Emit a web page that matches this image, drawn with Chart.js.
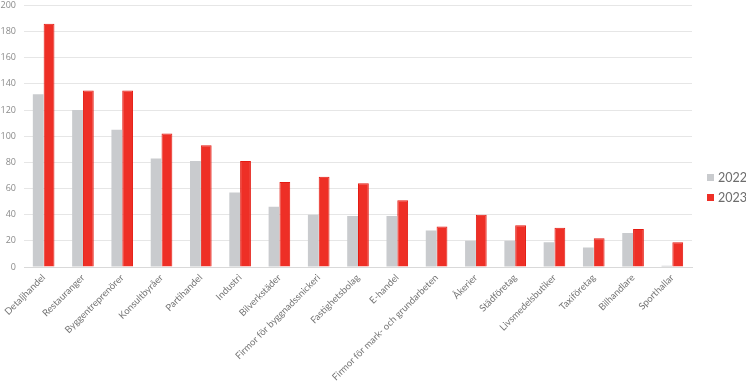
<!DOCTYPE html>
<html>
<head>
<meta charset="utf-8">
<script src="https://cdn.jsdelivr.net/npm/chart.js@4/dist/chart.umd.min.js"></script>
<style>
  html, body { margin: 0; padding: 0; background: #ffffff; }
  #wrap { width: 746px; height: 382px; position: relative; overflow: hidden; }
  #c { position: absolute; left: 0; top: -8px; }
</style>
</head>
<body>
<div id="wrap"><canvas id="c" width="746" height="390"></canvas></div>
<script>
const categories = [
  "Detaljhandel", "Restauranger", "Byggentreprenörer", "Konsultbyråer",
  "Partihandel", "Industri", "Bilverkstäder", "Firmor för byggnadssnickeri",
  "Fastighetsbolag", "E-handel", "Firmor för mark- och grundarbeten",
  "Åkerier", "Städföretag", "Livsmedelsbutiker", "Taxiföretag",
  "Bilhandlare", "Sporthallar"
];
const values2022 = [132, 120, 105, 83, 81, 57, 46, 40, 39, 39, 28, 20, 20, 19, 15, 26, 1];
const values2023 = [186, 135, 135, 102, 93, 81, 65, 69, 64, 51, 31, 40, 32, 30, 22, 29, 19];
const seriesLabels = ["2022", "2023"];
const yTicks = [0, 20, 40, 60, 80, 100, 120, 140, 160, 180, 200];

const legendPlugin = {
  id: 'sideLegend',
  afterDraw(chart) {
    const ctx = chart.ctx;
    ctx.save();
    ctx.font = "12.5px Lato, 'Open Sans', sans-serif";
    ctx.textBaseline = 'middle';
    ctx.textAlign = 'left';
    chart.data.datasets.forEach((ds, i) => {
      const y = 185 + i * 20;
      ctx.fillStyle = ds.backgroundColor;
      ctx.fillRect(707, y - 3, 7, 7);
      ctx.fillStyle = '#6d6d6d';
      ctx.fillText(ds.label, 718, y + 1);
    });
    ctx.restore();
  }
};

new Chart(document.getElementById('c'), {
  type: 'bar',
  data: {
    labels: categories,
    datasets: [
      { label: seriesLabels[0], data: values2022, backgroundColor: '#c9cbce', borderWidth: 0 },
      { label: seriesLabels[1], data: values2023, backgroundColor: '#ee2f26', borderColor: '#e41b12', borderWidth: 1 }
    ]
  },
  options: {
    responsive: false,
    animation: false,
    devicePixelRatio: 1,
    layout: { padding: { top: 0, right: 54, left: 0, bottom: 0 } },
    datasets: { bar: { categoryPercentage: 0.55, barPercentage: 1.0 } },
    plugins: {
      legend: { display: false },
      tooltip: { enabled: false }
    },
    scales: {
      x: {
        grid: { display: false, drawTicks: false },
        border: { display: true, color: '#d9d9d9' },
        ticks: {
          autoSkip: false, maxRotation: 45, minRotation: 45, padding: 5,
          color: '#757575',
          font: { family: "Lato, 'Open Sans', sans-serif", size: 9.5 }
        },
        afterFit: (s) => { s.height = 115; }
      },
      y: {
        min: 0, max: 200,
        afterBuildTicks: (s) => { s.ticks = yTicks.map(v => ({ value: v })); },
        grid: { color: '#e6e6e6', drawTicks: false },
        border: { display: false },
        ticks: {
          padding: 8,
          color: '#8a8a8a',
          font: { family: "'Open Sans', 'Liberation Sans', sans-serif", size: 9 }
        },
        afterFit: (s) => { s.width = 24; }
      }
    }
  },
  plugins: [legendPlugin]
});
</script>
</body>
</html>
